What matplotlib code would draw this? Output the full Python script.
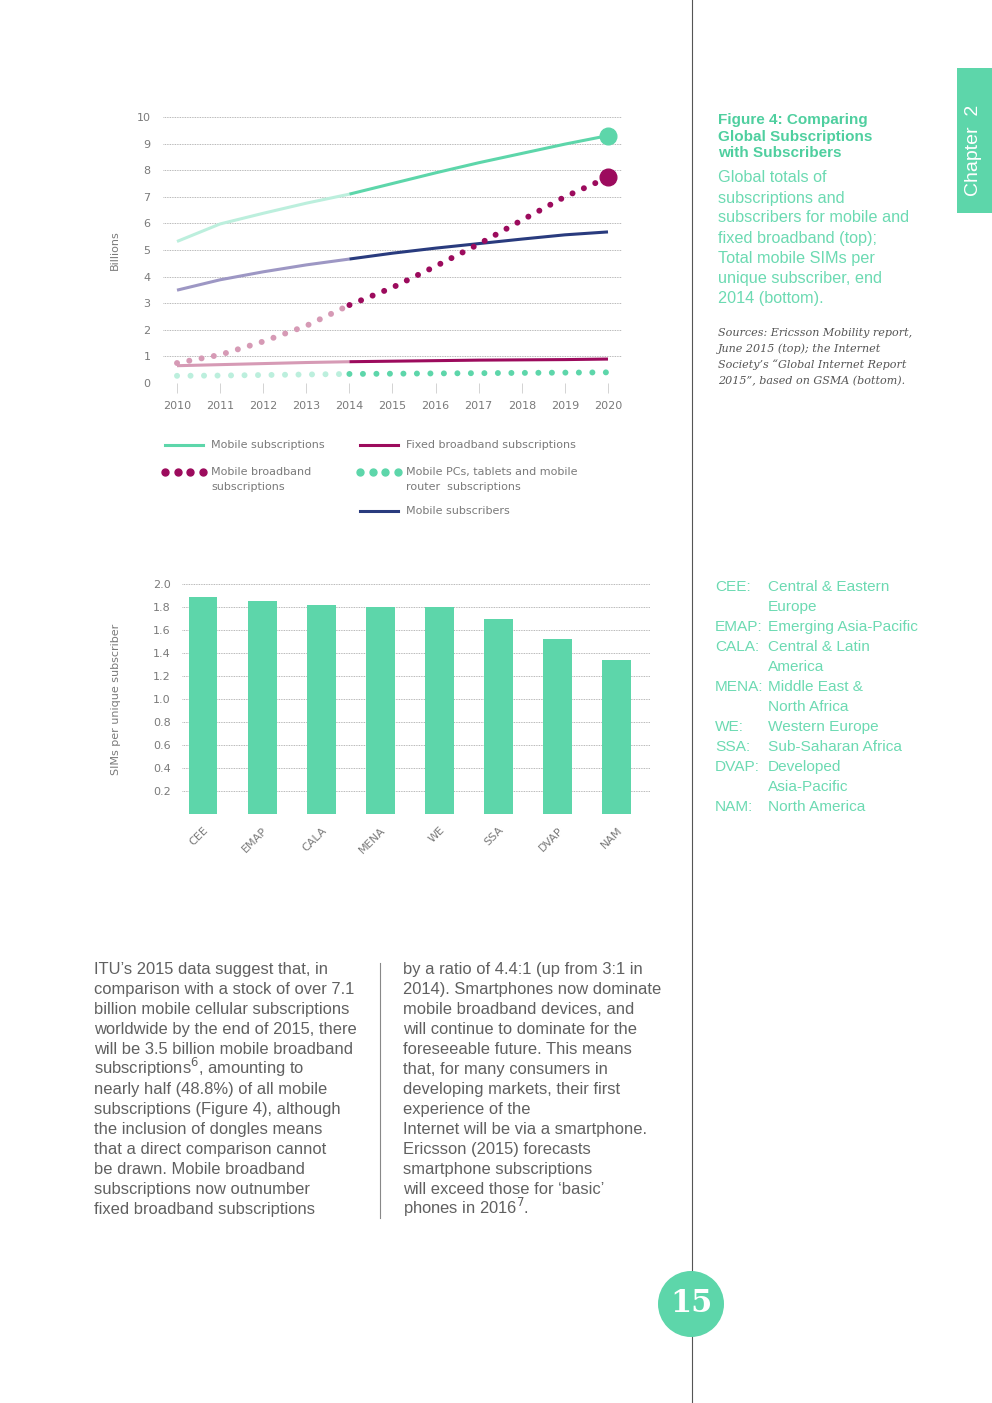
import matplotlib
matplotlib.use('Agg')
import matplotlib.pyplot as plt
from matplotlib.patches import Rectangle, Circle

W, H = 992, 1403
fig = plt.figure(figsize=(W / 100, H / 100), dpi=100)
fig.patch.set_facecolor('white')
plt.rcParams['font.family'] = ['Liberation Sans', 'DejaVu Sans']

# Colors
TEAL = '#5dd6aa'
TEAL_L = '#bcefdd'
NAVY = '#293b7e'
NAVY_L = '#9d97c4'
MAG = '#9c0b5d'
MAG_L = '#d69ab5'
GRY = '#7a7a7a'
TXT = '#606060'
CAP = '#6cdab2'
CHART_FONT = 'DejaVu Sans'

# ---- data: top chart (billions) ----
years = [2010, 2011, 2012, 2013, 2014, 2015, 2016, 2017, 2018, 2019, 2020]
mobile_subs = [5.32, 5.98, 6.38, 6.76, 7.10, 7.50, 7.90, 8.28, 8.63, 8.98, 9.30]
mobile_subscribers = [3.49, 3.88, 4.18, 4.44, 4.66, 4.88, 5.07, 5.24, 5.41, 5.57, 5.68]
fixed_bb = [0.65, 0.69, 0.73, 0.77, 0.80, 0.82, 0.84, 0.86, 0.87, 0.88, 0.90]
mobile_bb = [0.75, 1.06, 1.56, 2.15, 2.93, 3.59, 4.39, 5.22, 6.12, 7.00, 7.73]
mobile_pc = [0.27, 0.28, 0.30, 0.32, 0.34, 0.35, 0.36, 0.37, 0.38, 0.39, 0.40]
split = 4  # index of 2014: lighter before, darker after

# ---- data: bottom chart ----
regions = ['CEE', 'EMAP', 'CALA', 'MENA', 'WE', 'SSA', 'DVAP', 'NAM']
sims = [1.89, 1.85, 1.82, 1.80, 1.80, 1.70, 1.52, 1.34]


def px_axes(l, t, r, b):
    return fig.add_axes([l / W, 1 - b / H, (r - l) / W, (b - t) / H])


# page overlay in pixel coords
pg = fig.add_axes([0, 0, 1, 1])
pg.set_xlim(0, W)
pg.set_ylim(H, 0)
pg.axis('off')


def t(x, y, s, c=TXT, fs=11, ha='left', va='center', **kw):
    pg.text(x, y, s, color=c, fontsize=fs, ha=ha, va=va, **kw)


# ════════════════ TOP CHART ════════════════
ax = px_axes(163, 117, 622, 383)
ax.patch.set_alpha(0)
ax.set_xlim(2009.675, 2020.325)
ax.set_ylim(0, 10)
for s in ax.spines.values():
    s.set_visible(False)
ax.set_yticks(range(0, 11))
ax.set_xticks(years)
ax.tick_params(axis='y', length=0, pad=9, labelsize=8, labelcolor=GRY)
ax.tick_params(axis='x', length=7, width=0.6, color='#cccccc', pad=6,
               labelsize=8, labelcolor=GRY)
for tl in ax.get_xticklabels() + ax.get_yticklabels():
    tl.set_family(CHART_FONT)
ax.grid(axis='y', color='#a0a0a0', lw=0.6, ls=(0, (1, 1)))
ax.set_axisbelow(True)
ax.set_ylabel('Billions', fontsize=8, color=GRY, labelpad=12, family=CHART_FONT)

lw = 2.2
# mobile subscriptions
ax.plot(years[:split + 1], mobile_subs[:split + 1], color=TEAL_L, lw=lw,
        solid_capstyle='butt', clip_on=False)
ax.plot(years[split:], mobile_subs[split:], color=TEAL, lw=lw,
        solid_capstyle='butt', clip_on=False)
ax.plot(years[-1], mobile_subs[-1], 'o', color=TEAL, ms=12, clip_on=False)
# mobile subscribers
ax.plot(years[:split + 1], mobile_subscribers[:split + 1], color=NAVY_L, lw=lw,
        solid_capstyle='butt')
ax.plot(years[split:], mobile_subscribers[split:], color=NAVY, lw=lw,
        solid_capstyle='butt')
# fixed broadband
ax.plot(years[:split + 1], fixed_bb[:split + 1], color=MAG_L, lw=lw,
        solid_capstyle='butt')
ax.plot(years[split:], fixed_bb[split:], color=MAG, lw=lw,
        solid_capstyle='butt')
# mobile broadband (dotted)
dot = 4.3
ax.plot(years[:split + 1], mobile_bb[:split + 1], color=MAG_L, lw=dot,
        ls=(0, (0.01, 2.08)), dash_capstyle='round')
ax.plot(years[split:], mobile_bb[split:], color=MAG, lw=dot,
        ls=(2.08, (0.01, 2.08)), dash_capstyle='round')
ax.plot(years[-1], mobile_bb[-1], 'o', color=MAG, ms=12, clip_on=False)
# mobile PCs, tablets, routers (dotted)
ax.plot(years[:split + 1], mobile_pc[:split + 1], color=TEAL_L, lw=dot,
        ls=(0, (0.01, 2.25)), dash_capstyle='round')
ax.plot(years[split:], mobile_pc[split:], color=TEAL, lw=dot,
        ls=(0, (0.01, 2.25)), dash_capstyle='round')

# legend (manual)
lfs = 8
lkw = dict(family=CHART_FONT)
pg.plot([165, 203], [445, 445], color=TEAL, lw=2.2)
t(211, 445, 'Mobile subscriptions', GRY, lfs, **lkw)
pg.plot([360, 398], [445, 445], color=MAG, lw=2.2)
t(406, 445, 'Fixed broadband subscriptions', GRY, lfs, **lkw)
pg.plot([165, 177.5, 190, 202.5], [472] * 4, 'o', color=MAG, ms=5)
t(211, 472, 'Mobile broadband', GRY, lfs, **lkw)
t(211, 487, 'subscriptions', GRY, lfs, **lkw)
pg.plot([360, 372.5, 385, 397.5], [472] * 4, 'o', color=TEAL, ms=5)
t(406, 472, 'Mobile PCs, tablets and mobile', GRY, lfs, **lkw)
t(406, 487, 'router  subscriptions', GRY, lfs, **lkw)
pg.plot([360, 398], [511, 511], color=NAVY, lw=2.2)
t(406, 511, 'Mobile subscribers', GRY, lfs, **lkw)

# ════════════════ BAR CHART ════════════════
bx = px_axes(182, 584, 650, 814)
bx.patch.set_alpha(0)
bx.set_xlim(-0.355, 7.56)
bx.set_ylim(0, 2.0)
for s in bx.spines.values():
    s.set_visible(False)
bx.set_yticks([0.2, 0.4, 0.6, 0.8, 1.0, 1.2, 1.4, 1.6, 1.8, 2.0])
bx.set_yticklabels([f'{v:.1f}' for v in bx.get_yticks()])
bx.grid(axis='y', color='#a0a0a0', lw=0.6, ls=(0, (1, 1)))
bx.axhline(0, color='#a0a0a0', lw=0.6, ls=(0, (1, 1)))
bx.set_axisbelow(True)
bx.bar(range(len(regions)), sims, width=0.49, color=TEAL, zorder=2)
bx.set_xticks(range(len(regions)))
bx.set_xticklabels(regions, rotation=45, ha='right', rotation_mode='anchor')
bx.tick_params(axis='y', length=0, pad=8, labelsize=8, labelcolor=GRY)
bx.tick_params(axis='x', length=0, pad=8, labelsize=8, labelcolor=GRY)
for tl in bx.get_xticklabels() + bx.get_yticklabels():
    tl.set_family(CHART_FONT)
bx.set_ylabel('SIMs per unique subscriber', fontsize=8, color=GRY,
              labelpad=23, family=CHART_FONT)

# ════════════════ RIGHT COLUMN ════════════════
for i, s in enumerate(['Figure 4: Comparing', 'Global Subscriptions',
                       'with Subscribers']):
    t(718, 120 + i * 16.5, s, '#4fcf9f', 11, fontweight='bold')
for i, s in enumerate(['Global totals of', 'subscriptions and',
                       'subscribers for mobile and', 'fixed broadband (top);',
                       'Total mobile SIMs per', 'unique subscriber, end',
                       '2014 (bottom).']):
    t(718, 178 + i * 20, s, CAP, 11.7)
for i, s in enumerate(['Sources: Ericsson Mobility report,',
                       'June 2015 (top); the Internet',
                       'Society\u2019s \u201cGlobal Internet Report',
                       '2015\u201d, based on GSMA (bottom).']):
    t(718, 333 + i * 16, s, '#555555', 8.0, family='DejaVu Serif',
      style='italic')

gloss = [('CEE:', 'Central & Eastern'), ('', 'Europe'),
         ('EMAP:', 'Emerging Asia-Pacific'), ('CALA:', 'Central & Latin'),
         ('', 'America'), ('MENA:', 'Middle East &'), ('', 'North Africa'),
         ('WE:', 'Western Europe'), ('SSA:', 'Sub-Saharan Africa'),
         ('DVAP:', 'Developed'), ('', 'Asia-Pacific'),
         ('NAM:', 'North America')]
for i, (a, d) in enumerate(gloss):
    y = 587 + i * 20
    if a:
        t(715, y, a, CAP, 11.1)
    t(768, y, d, CAP, 11.1)

# chapter tab
pg.add_patch(Rectangle((957, 68), 35, 145, color=TEAL, lw=0))
t(974, 150, 'Chapter  2', 'white', 14, ha='center', rotation=90)

# ════════════════ BODY TEXT ════════════════
left_col = ['ITU\u2019s 2015 data suggest that, in',
            'comparison with a stock of over 7.1',
            'billion mobile cellular subscriptions',
            'worldwide by the end of 2015, there',
            'will be 3.5 billion mobile broadband',
            r'subscriptions$^{6}$, amounting to',
            'nearly half (48.8%) of all mobile',
            'subscriptions (Figure 4), although',
            'the inclusion of dongles means',
            'that a direct comparison cannot',
            'be drawn. Mobile broadband',
            'subscriptions now outnumber',
            'fixed broadband subscriptions']
right_col = ['by a ratio of 4.4:1 (up from 3:1 in',
             '2014). Smartphones now dominate',
             'mobile broadband devices, and',
             'will continue to dominate for the',
             'foreseeable future. This means',
             'that, for many consumers in',
             'developing markets, their first',
             'experience of the',
             'Internet will be via a smartphone.',
             'Ericsson (2015) forecasts',
             'smartphone subscriptions',
             'will exceed those for \u2018basic\u2019',
             r'phones in 2016$^{7}$.']
for i, s in enumerate(left_col):
    t(94, 974 + i * 20, s, TXT, 11.9, va='baseline')
for i, s in enumerate(right_col):
    t(403, 974 + i * 20, s, TXT, 11.9, va='baseline')
pg.plot([380, 380], [963, 1218], color='#888888', lw=0.8)

# page line and number
pg.plot([692, 692], [0, H], color='#555555', lw=0.8, zorder=1)
pg.add_patch(Circle((691, 1304), 33, color=TEAL, lw=0, zorder=2))
t(691, 1304, '15', 'white', 22, ha='center', family='DejaVu Serif',
  fontweight='bold', zorder=3)

plt.savefig('out.png', dpi=100, facecolor='white')
